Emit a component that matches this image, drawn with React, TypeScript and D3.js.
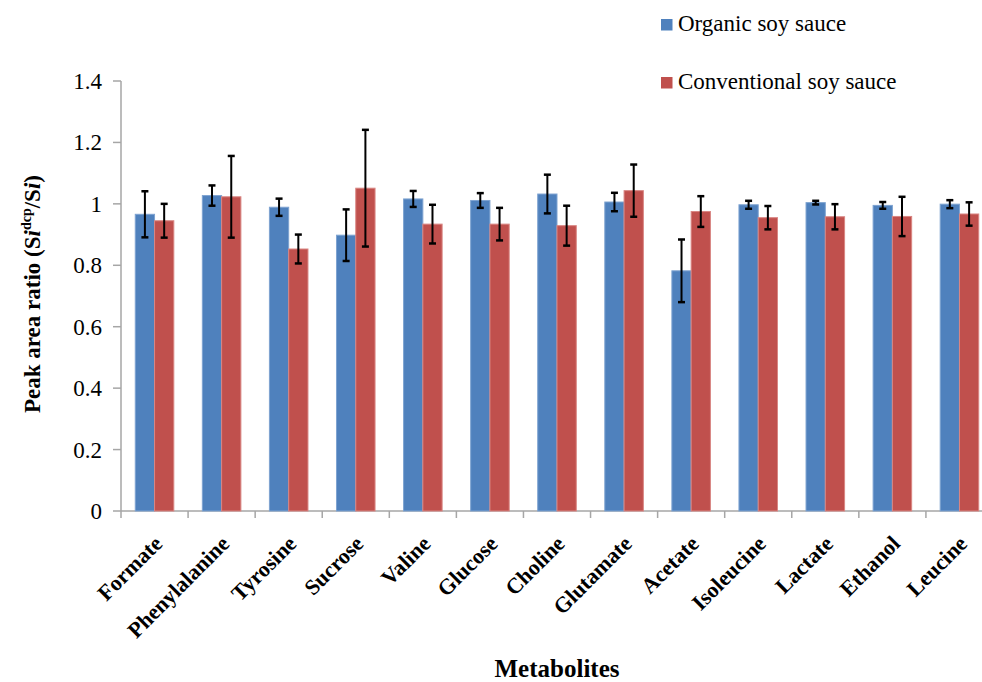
import React, { useEffect, useRef } from "react";
import * as d3 from "d3";

// Metabolites on the x axis
const metabolites = [
  "Formate", "Phenylalanine", "Tyrosine", "Sucrose", "Valine", "Glucose", "Choline",
  "Glutamate", "Acetate", "Isoleucine", "Lactate", "Ethanol", "Leucine",
];

// Peak area ratio
const organic = [0.966, 1.027, 0.989, 0.898, 1.016, 1.011, 1.032, 1.006, 0.782, 0.997, 1.004, 0.995, 0.999];
const organicErr = [0.075, 0.033, 0.028, 0.084, 0.026, 0.024, 0.063, 0.03, 0.102, 0.013, 0.006, 0.011, 0.013];
const conventional = [0.945, 1.023, 0.853, 1.051, 0.934, 0.934, 0.929, 1.043, 0.975, 0.955, 0.958, 0.959, 0.967];
const conventionalErr = [0.055, 0.133, 0.047, 0.19, 0.063, 0.053, 0.065, 0.085, 0.05, 0.038, 0.041, 0.064, 0.038];

const seriesNames = ["Organic soy sauce", "Conventional soy sauce"];
const seriesColors = ["#4f81bd", "#c0504d"];
const seriesEdges = ["#7ea3d1", "#d98683"];
const yTicks = [0, 0.2, 0.4, 0.6, 0.8, 1, 1.2, 1.4];

const FONT = "Liberation Serif, Times New Roman, serif";
const AXIS = "#a6a6a6";

const App: React.FC = () => {
  const svgRef = useRef<SVGSVGElement>(null);

  useEffect(() => {
    const svg = d3.select(svgRef.current);
    svg.selectAll("*").remove();

    const left = 121;
    const right = 993;
    const top = 81;
    const bottom = 511;

    const x = d3.scaleBand<string>().domain(metabolites).range([left, right]).padding(0);
    const xs = d3.scaleBand<string>().domain(["o", "c"]).range([0, x.bandwidth()]).paddingInner(0).paddingOuter(0.74);
    const y = d3.scaleLinear().domain([0, 1.4]).range([bottom, top]);

    const g = svg.append("g").attr("font-family", FONT);

    // axes
    g.append("line").attr("x1", left).attr("x2", 982).attr("y1", bottom).attr("y2", bottom)
      .attr("stroke", AXIS).attr("stroke-width", 1.5);
    g.append("line").attr("x1", left).attr("x2", left).attr("y1", top).attr("y2", bottom)
      .attr("stroke", AXIS).attr("stroke-width", 1.5);

    metabolites.forEach((m) => {
      const bx = x(m)!;
      g.append("line").attr("x1", bx).attr("x2", bx).attr("y1", bottom).attr("y2", bottom + 7)
        .attr("stroke", AXIS).attr("stroke-width", 1.5);
    });

    yTicks.forEach((t) => {
      g.append("line").attr("x1", left - 8).attr("x2", left).attr("y1", y(t)).attr("y2", y(t))
        .attr("stroke", AXIS).attr("stroke-width", 1.5);
      g.append("text").attr("x", 102).attr("y", y(t) + 8).attr("text-anchor", "end")
        .attr("font-size", 23).text(String(t));
    });

    // bars + error bars
    const series = [
      { key: "o", values: organic, errs: organicErr },
      { key: "c", values: conventional, errs: conventionalErr },
    ];
    series.forEach((s, si) => {
      metabolites.forEach((m, i) => {
        const bx = x(m)! + xs(s.key)!;
        const bw = xs.bandwidth();
        g.append("rect").attr("x", bx).attr("y", y(s.values[i])).attr("width", bw)
          .attr("height", y(0) - y(s.values[i])).attr("fill", seriesColors[si])
          .attr("stroke", seriesEdges[si]).attr("stroke-width", 1);
      });
    });
    series.forEach((s) => {
      metabolites.forEach((m, i) => {
        const cx = x(m)! + xs(s.key)! + xs.bandwidth() / 2;
        const hi = y(s.values[i] + s.errs[i]);
        const lo = y(s.values[i] - s.errs[i]);
        const eg = g.append("g").attr("stroke", "#000").attr("stroke-width", 2);
        eg.append("line").attr("x1", cx).attr("x2", cx).attr("y1", hi).attr("y2", lo);
        eg.append("line").attr("x1", cx - 3.5).attr("x2", cx + 3.5).attr("y1", hi).attr("y2", hi).attr("stroke-width", 2.5);
        eg.append("line").attr("x1", cx - 3.5).attr("x2", cx + 3.5).attr("y1", lo).attr("y2", lo).attr("stroke-width", 2.5);
      });
    });

    // category labels
    metabolites.forEach((m) => {
      const cx = x(m)! + x.bandwidth() / 2;
      g.append("text")
        .attr("transform", `translate(${cx + 9},${545}) rotate(-45)`)
        .attr("text-anchor", "end")
        .attr("font-size", 22).attr("font-weight", "bold")
        .text(m);
    });

    // axis titles
    g.append("text").attr("x", 557).attr("y", 677).attr("text-anchor", "middle")
      .attr("font-size", 25).attr("font-weight", "bold")
      .text("Metabolites");

    const yt = g.append("text")
      .attr("transform", `translate(40,294) rotate(-90)`)
      .attr("text-anchor", "middle")
      .attr("font-size", 23).attr("font-weight", "bold");
    yt.append("tspan").text("Peak area ratio (S");
    yt.append("tspan").attr("font-style", "italic").text("i");
    yt.append("tspan").attr("dy", -9).attr("font-size", 14).text("dcp");
    yt.append("tspan").attr("dy", 9).text("/S");
    yt.append("tspan").attr("font-style", "italic").text("i");
    yt.append("tspan").text(")");

    // legend
    seriesNames.forEach((name, i) => {
      const ly = 19 + i * 58;
      g.append("rect").attr("x", 661).attr("y", ly).attr("width", 11.5).attr("height", 11.5)
        .attr("fill", seriesColors[i]);
      g.append("text").attr("x", 678).attr("y", ly + 12)
        .attr("font-size", 23).text(name);
    });
  }, []);

  return (
    <svg ref={svgRef} width={982} height={682}
      style={{ position: "absolute", left: 0, top: 0, background: "#fff" }} />
  );
};

export default App;
